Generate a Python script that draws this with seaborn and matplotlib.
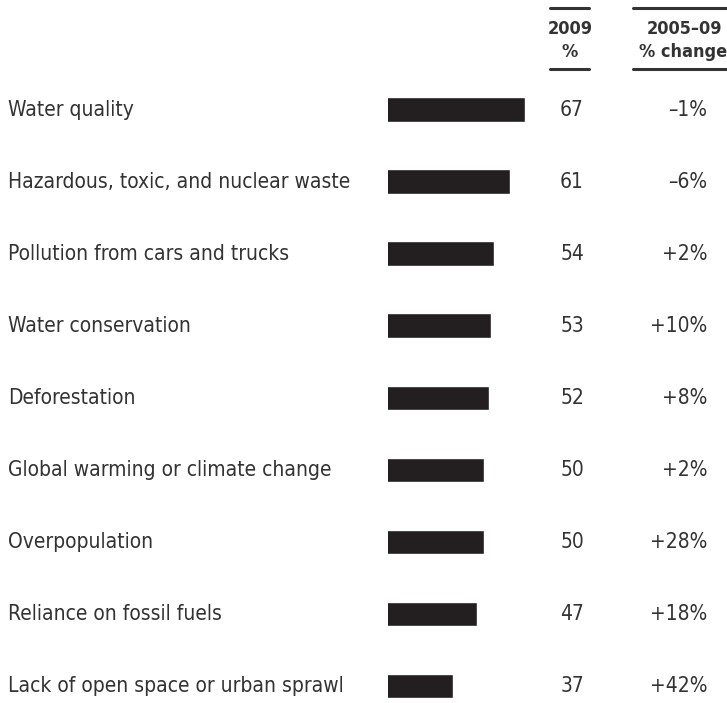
import matplotlib
matplotlib.use("Agg")
import matplotlib.pyplot as plt
import matplotlib.transforms as mtransforms
import seaborn as sns
import pandas as pd

# Data
issues = [
    "Water quality",
    "Hazardous, toxic, and nuclear waste",
    "Pollution from cars and trucks",
    "Water conservation",
    "Deforestation",
    "Global warming or climate change",
    "Overpopulation",
    "Reliance on fossil fuels",
    "Lack of open space or urban sprawl",
]
pct_2009 = [67, 61, 54, 53, 52, 50, 50, 47, 37]
change_2005_09 = [-1, -6, 2, 10, 8, 2, 28, 18, 42]

W, H = 727, 703
TEXT = "#333333"
BAR = "#231f20"

sns.set_style("white")
plt.rcParams["font.family"] = ["DejaVu Sans"]
plt.rcParams["font.stretch"] = "condensed"

df = pd.DataFrame({"issue": issues, "pct": pct_2009})

fig = plt.figure(figsize=(W / 100, H / 100), dpi=100)
# bar axes: left edge at x=388px, rows spaced 72px starting at y=109.5px
ax_left, ax_top = 388, 73.5
ax = fig.add_axes([ax_left / W, 0, (W - ax_left) / W, (H - ax_top) / H])
sns.barplot(data=df, x="pct", y="issue", orient="h", color=BAR,
            width=0.34, saturation=1, ax=ax)
ax.set_xlim(10, 10 + (W - ax_left) / 2.4)
ax.set_ylim(8 + (H - 686) / 72, -0.5)
ax.axis("off")

fig_x = mtransforms.blended_transform_factory(fig.transFigure, ax.transData)
body = dict(fontsize=15, color=TEXT, va="center", fontstretch="condensed")
for i, (name, v, c) in enumerate(zip(issues, pct_2009, change_2005_09)):
    ax.text(8 / W, i, name, transform=fig_x, ha="left", **body)
    ax.text(572 / W, i, str(v), transform=fig_x, ha="center", **body)
    sign = "+" if c >= 0 else "\u2013"
    ax.text(707 / W, i, f"{sign}{abs(c)}%", transform=fig_x, ha="right", **body)

# column headers
def px(x, y):
    return x / W, 1 - y / H

hdr = dict(fontsize=13, fontweight="bold", color=TEXT, ha="center",
           va="center", fontstretch="condensed")
fig.text(*px(570, 29), "2009", **hdr)
fig.text(*px(570, 52), "%", **hdr)
fig.text(*px(684, 29), "2005\u201309", **hdr)
fig.text(*px(683, 52), "% change", **hdr)
for x0, x1 in [(550, 589), (633, 730)]:
    for y in (8.3, 69):
        fig.add_artist(plt.Line2D([x0 / W, x1 / W], [1 - y / H] * 2,
                                  color=TEXT, lw=2.2, transform=fig.transFigure))

fig.savefig("out.png", dpi=100)
plt.close(fig)
